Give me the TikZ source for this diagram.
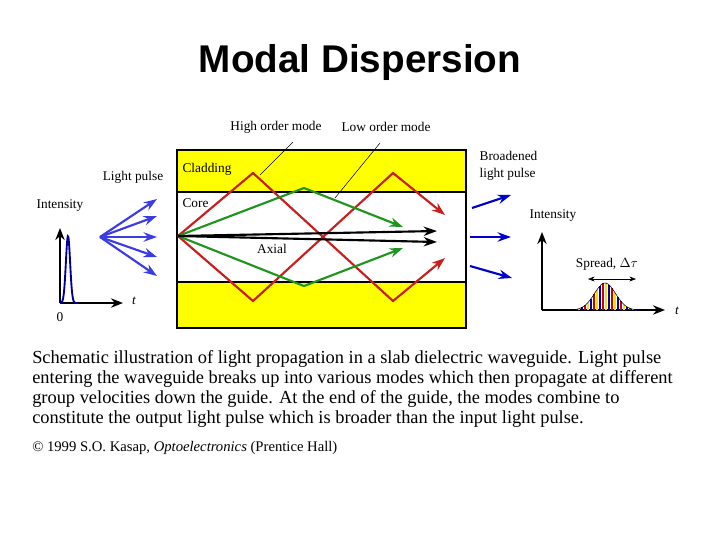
\documentclass[tikz,border=0pt]{standalone}
\usepackage{fontspec}
\setmainfont{Liberation Serif}
\newfontfamily\titlefont{Liberation Sans}
\usetikzlibrary{arrows.meta}
\definecolor{clad}{RGB}{255,255,0}
\definecolor{hmode}{RGB}{200,30,30}
\definecolor{lmode}{RGB}{30,150,30}
\definecolor{pulse}{RGB}{60,60,230}
\tikzset{
  lbl/.style={font=\fontsize{10}{13}\selectfont, inner sep=1pt},
  ray/.style={line width=1.6pt, -{Stealth[length=10pt,width=7pt]}},
  ax/.style={line width=1.6pt, -{Stealth[length=9pt,width=7pt]}}
}
\begin{document}
\begin{tikzpicture}[x=0.75pt,y=-0.75pt]
  \useasboundingbox (0,0) rectangle (720,540);
  \node[font=\titlefont\bfseries\fontsize{29}{32}\selectfont] (title) at (360,62) {Modal Dispersion};

  % waveguide
  \fill[clad] (177,150) rectangle (466,328);
  \fill[white] (177,192) rectangle (466,282);
  \draw[line width=1.8pt] (177,150) rectangle (466,328);
  \draw[line width=1.8pt] (177,192) -- (466,192) (177,282) -- (466,282);
  \node[lbl,anchor=west] (clad) at (181,169) {Cladding};
  \node[lbl,anchor=west] (core) at (181,203) {Core};

  % modes
  \coordinate (in) at (178,236);
  \draw[ray,hmode] (in) -- (253,173) -- (393,301) -- (445,258);
  \draw[ray,hmode] (in) -- (253,301) -- (393,173) -- (445,215);
  \draw[ray,lmode] (in) -- (304,188) -- (403,227);
  \draw[ray,lmode] (in) -- (304,286) -- (403,248);
  \draw[ray,black] (in) -- (437,231);
  \draw[ray,black] (in) -- (437,242);
  \node[lbl] (axial) at (272,249) {Axial};

  \node[lbl] (high) at (276,127) {High order mode};
  \node[lbl] (low) at (386,127) {Low order mode};
  \draw (293,142) -- (260,175);
  \draw (380,143) -- (335,198);

  % input pulse
  \node[lbl] (lp) at (133,177) {Light pulse};
  \coordinate (fan) at (100,237);
  \foreach \y in {199,216,237,257,276}
    \draw[ray,pulse] (fan) -- (157,\y);

  \coordinate (o1) at (60,303);
  \draw[ax] (o1) -- (60,228);
  \draw[ax] (o1) -- (123,303);
  \node[lbl] (int1) at (60,206) {Intensity};
  \node[lbl] (zero) at (60,317) {0};
  \node[lbl] (t1) at (134,301) {\itshape t};
  \draw[line width=1.4pt,blue!60!black] plot[domain=60:78,samples=40,smooth] (\x,{303-67*exp(-((\x-68)/3)^2)});

  % output
  \node[lbl,align=left,anchor=west] (bp) at (478,166) {Broadened\\light pulse};
  \draw[ray,blue!80!black] (472,208) -- (511,195);
  \draw[ray,blue!80!black] (470,237) -- (511,237);
  \draw[ray,blue!80!black] (470,266) -- (512,278);

  \coordinate (o2) at (542,310);
  \draw[ax] (o2) -- (542,232);
  \draw[ax] (o2) -- (665,310);
  \node[lbl] (int2) at (553,216) {Intensity};
  \node[lbl] (t2) at (677,311) {\itshape t};
  \node[lbl] (spread) at (607,264) {Spread, $\Delta\tau$};
  \draw[{Stealth[length=5pt]}-{Stealth[length=5pt]}] (588,279) -- (636,279);
  \foreach \x [count=\i] in {576,579,...,636}{
    \pgfmathtruncatemacro\c{mod(\i,3)}
    \ifcase\c \def\col{blue!70!black}\or\def\col{red!80!black}\else\def\col{yellow!80!orange}\fi
    \fill[\col] (\x-1,310) rectangle (\x+1,{310-27*exp(-((\x-605)/15)^2)});
  }
  \draw[thin] plot[domain=570:642,samples=50,smooth] (\x,{310-27*exp(-((\x-605)/15)^2)});

  % caption
  \node[anchor=north west,align=left,font=\fontsize{13.8}{15}\selectfont,inner sep=0pt] (cap) at (32,350)
  {Schematic illustration of light propagation in a slab dielectric waveguide. Light pulse\\
   entering the waveguide breaks up into various modes which then propagate at different\\
   group velocities down the guide. At the end of the guide, the modes combine to\\
   constitute the output light pulse which is broader than the input light pulse.};
  \node[anchor=west,font=\fontsize{11}{12}\selectfont,inner sep=0pt] (copy) at (32,448)
  {\textcopyright\ 1999 S.O. Kasap, \textit{Optoelectronics} (Prentice Hall)};
\end{tikzpicture}
\end{document}
